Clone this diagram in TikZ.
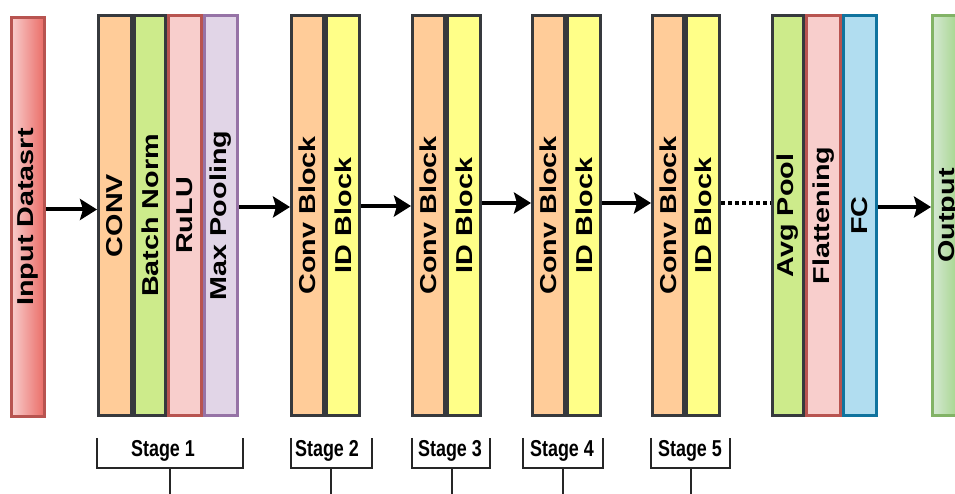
\documentclass[tikz,border=0pt]{standalone}
\usepackage{fontspec}
\usepackage{graphicx}
\setmainfont{Liberation Sans}
\newfontfamily\boxfont{Liberation Sans}[FakeStretch=1.25]
\newfontfamily\stagefont{Liberation Sans}[FakeStretch=0.78]
\usetikzlibrary{arrows.meta}

\definecolor{peach}{HTML}{FFCC99}
\definecolor{lime}{HTML}{CDEB8B}
\definecolor{rose}{HTML}{F8CECC}
\definecolor{roseline}{HTML}{B85450}
\definecolor{rosedeep}{HTML}{EA6B66}
\definecolor{lilac}{HTML}{E1D5E7}
\definecolor{lilacline}{HTML}{9673A6}
\definecolor{lemon}{HTML}{FFFF88}
\definecolor{sky}{HTML}{B1DDF0}
\definecolor{skyline}{HTML}{10739E}
\definecolor{mint}{HTML}{D5E8D4}
\definecolor{mintdeep}{HTML}{97D077}
\definecolor{mintline}{HTML}{82B366}
\definecolor{darkline}{HTML}{36393D}

\tikzset{
  layer/.style={draw=darkline, line width=3pt, inner sep=0pt,
    minimum height=400pt, minimum width=33pt,
    font=\boxfont\bfseries\fontsize{23}{23}\selectfont},
  flow/.style={line width=4pt, -{Stealth[length=17pt,width=21pt,inset=3pt]}},
  dots/.style={line width=4.5pt, dash pattern=on 4pt off 3pt},
  bracket/.style={line width=1.7pt, draw=black!85},
  stagelabel/.style={anchor=base, inner sep=0pt,
    font=\stagefont\bfseries\fontsize{23}{23}\selectfont},
}

\begin{document}
\begin{tikzpicture}[x=1pt,y=1pt]
\useasboundingbox (0,0) rectangle (955,494);
\clip (0,0) rectangle (955,494);

% input
\node[layer, draw=roseline, left color=rose, right color=rosedeep,
      minimum height=399pt] (input) at (28,277) {\rotatebox{90}{Input Datasrt}};

% stage 1
\node[layer, fill=peach] (conv) at (115,278.5) {\rotatebox{90}{CONV}};
\node[layer, fill=lime, minimum width=31pt] (bn) at (150,278.5) {\rotatebox{90}{Batch Norm}};
\node[layer, fill=rose, draw=roseline] (relu) at (185,278.5) {\rotatebox{90}{RuLU}};
\node[layer, fill=lilac, draw=lilacline] (pool) at (221,278.5) {\rotatebox{90}{Max Pooling}};

% stages 2 to 5
\node[layer, fill=peach, minimum width=32pt] (cb2) at (307.5,278.5) {\rotatebox{90}{Conv Block}};
\node[layer, fill=lemon] (id2) at (343,278.5) {\rotatebox{90}{ID Block}};
\node[layer, fill=peach, minimum width=32pt] (cb3) at (428.5,278.5) {\rotatebox{90}{Conv Block}};
\node[layer, fill=lemon] (id3) at (464,278.5) {\rotatebox{90}{ID Block}};
\node[layer, fill=peach, minimum width=32pt] (cb4) at (548.5,278.5) {\rotatebox{90}{Conv Block}};
\node[layer, fill=lemon] (id4) at (584,278.5) {\rotatebox{90}{ID Block}};
\node[layer, fill=peach, minimum width=31pt] (cb5) at (668,278.5) {\rotatebox{90}{Conv Block}};
\node[layer, fill=lemon] (id5) at (703,278.5) {\rotatebox{90}{ID Block}};

% head
\node[layer, fill=lime, minimum width=31pt] (avg) at (788,278.5) {\rotatebox{90}{Avg Pool}};
\node[layer, fill=rose, draw=roseline, minimum width=33.5pt] (flat) at (823.25,278.5) {\rotatebox{90}{Flattening}};
\node[layer, fill=sky, draw=skyline, minimum width=33.5pt] (fc) at (859.75,278.5) {\rotatebox{90}{FC}};
\node[layer, draw=mintline, left color=mint, right color=mintdeep] (out) at (949,278.5) {\rotatebox{90}{Output}};

% connectors
\draw[flow] ([yshift=7.5pt]input.east) -- ([yshift=6pt]conv.west);
\draw[flow] ([yshift=8.5pt]pool.east) -- ([yshift=8.5pt]cb2.west);
\draw[flow] ([yshift=9.5pt]id2.east) -- ([yshift=9.5pt]cb3.west);
\draw[flow] ([yshift=12.5pt]id3.east) -- ([yshift=12.5pt]cb4.west);
\draw[flow] ([yshift=12.5pt]id4.east) -- ([yshift=12.5pt]cb5.west);
\draw[dots] ([yshift=12.5pt]id5.east) -- ([yshift=12.5pt]avg.west);
\draw[flow] ([yshift=8.5pt]fc.east) -- ([yshift=8.5pt]out.west);

% stage brackets
\node[stagelabel] (st1) at (163,37.3) {Stage 1};
\draw[bracket] (97,56) -- (97,26) -- (243,26) -- (243,56);
\draw[bracket] (170,26) -- (170,0);

\node[stagelabel] (st2) at (327,37.3) {Stage 2};
\draw[bracket] (291,56) -- (291,26) -- (372,26) -- (372,56);
\draw[bracket] (331,26) -- (331,0);

\node[stagelabel] (st3) at (450,37.3) {Stage 3};
\draw[bracket] (412,56) -- (412,26) -- (490,26) -- (490,56);
\draw[bracket] (452,26) -- (452,0);

\node[stagelabel] (st4) at (562,37.3) {Stage 4};
\draw[bracket] (523,56) -- (523,26) -- (603,26) -- (603,56);
\draw[bracket] (563,26) -- (563,0);

\node[stagelabel] (st5) at (690,37.3) {Stage 5};
\draw[bracket] (651,56) -- (651,26) -- (730,26) -- (730,56);
\draw[bracket] (691,26) -- (691,0);
\end{tikzpicture}
\end{document}
